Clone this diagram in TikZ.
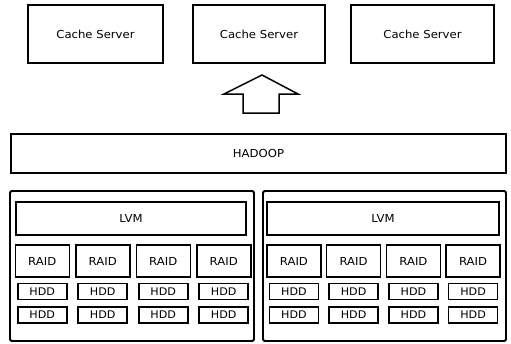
\documentclass[tikz,border=0pt]{standalone}
\usepackage{fontspec}
\setmainfont{DejaVu Sans}[FakeStretch=1.06]
\begin{document}
\begin{tikzpicture}[x=1pt,y=-1pt,
  box/.style={draw=black,line width=1.5pt,inner sep=0pt,outer sep=0pt,font=\fontsize{11}{13}\selectfont,text=black},
  outerbox/.style={draw=black,line width=1.8pt,rounded corners=1.5pt,inner sep=0pt,outer sep=0pt},
  raidbox/.style={box,minimum width=54pt,minimum height=32pt},
  hddbox/.style={box,minimum width=49pt,minimum height=16pt,line width=1.7pt,font=\fontsize{10.5}{12}\selectfont},
  blockarrow/.style={draw=black,line width=1.5pt,line join=miter,fill=white}]
\useasboundingbox (0,0) rectangle (511,343);
% cache servers
\node[box,minimum width=135pt,minimum height=58pt] (c1) at (95.5,34) {Cache Server};
\node[box,minimum width=132pt,minimum height=58pt] (c2) at (259,34) {Cache Server};
\node[box,minimum width=143pt,minimum height=58pt] (c3) at (422.5,34) {Cache Server};
% block arrow
\coordinate (tip) at (262,75);
\draw[blockarrow] (tip) -- (298,94) -- (279,94) -- (279,113) -- (243,113) -- (243,94) -- (224,94) -- cycle;
% hadoop
\node[box,minimum width=495pt,minimum height=39pt] (hadoop) at (258.5,153.5) {HADOOP};
% outer boxes
\node[outerbox,minimum width=244pt,minimum height=150pt] (ol) at (132,266) {};
\node[outerbox,minimum width=243pt,minimum height=150pt] (or) at (384.5,266) {};
% LVM
\node[box,minimum width=230pt,minimum height=33pt] (lvml) at (131,218.5) {LVM};
\node[box,minimum width=232pt,minimum height=33pt] (lvmr) at (383,218.5) {LVM};
% RAIDs and HDDs
\foreach \cx [count=\i] in {42.25,102.75,163.25,223.75,293.9,353.6,413.4,473.1}{
  \node[raidbox] (raid\i) at (\cx,261) {RAID};
  \node[hddbox] (hdda\i) at (\cx,291.5) {HDD};
  \node[hddbox] (hddb\i) at (\cx,315) {HDD};
}
\end{tikzpicture}
\end{document}
